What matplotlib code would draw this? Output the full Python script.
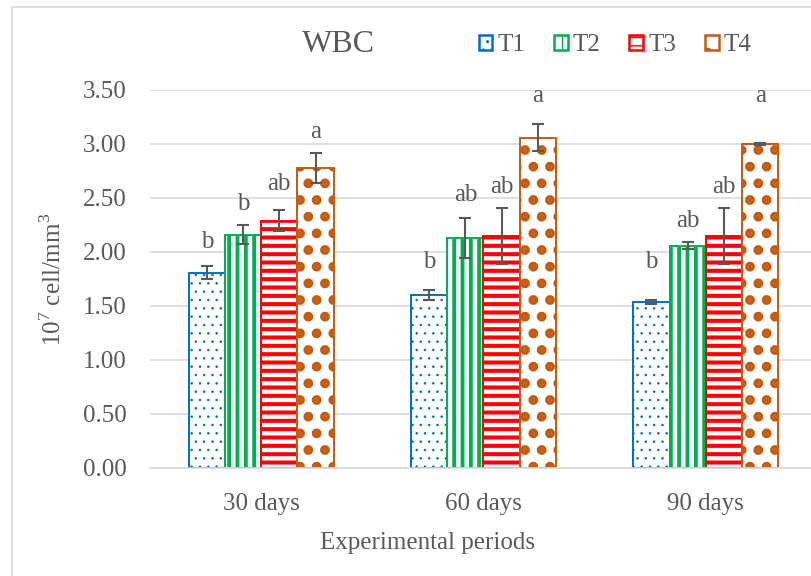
import matplotlib.pyplot as plt
import numpy as np
from matplotlib.patches import Rectangle

periods = ['30 days', '60 days', '90 days']
groups = ['T1', 'T2', 'T3', 'T4']

wbc = {
    'T1': [1.81, 1.60, 1.54],
    'T2': [2.16, 2.13, 2.06],
    'T3': [2.29, 2.15, 2.15],
    'T4': [2.78, 3.06, 3.00],
}
wbc_err = {
    'T1': [0.06, 0.045, 0.02],
    'T2': [0.09, 0.185, 0.035],
    'T3': [0.10, 0.26, 0.26],
    'T4': [0.14, 0.125, 0.01],
}
letters = {
    'T1': ['b', 'b', 'b'],
    'T2': ['b', 'ab', 'ab'],
    'T3': ['ab', 'ab', 'ab'],
    'T4': ['a', 'a', 'a'],
}
# baseline heights of the significance letters (axis units)
letter_y = {
    'T1': [2.04, 1.85, 1.85],
    'T2': [2.39, 2.47, 2.23],
    'T3': [2.57, 2.55, 2.55],
    'T4': [3.06, 3.39, 3.39],
}

colors = {'T1': '#0070C0', 'T2': '#00B050', 'T3': '#FF0000', 'T4': '#C55A11'}
hatches = {'T1': '..', 'T2': '||', 'T3': '--', 'T4': '.'}
hatch_lw = {'T1': 0.6, 'T2': 2.8, 'T3': 2.9, 'T4': 4.6}

txt = '#595959'
plt.rcParams['font.family'] = ['Liberation Serif', 'DejaVu Serif']
plt.rcParams['mathtext.fontset'] = 'custom'
plt.rcParams['mathtext.rm'] = 'Liberation Serif'

fig = plt.figure(figsize=(8.11, 5.76), dpi=100)
ax = fig.add_axes([150 / 811, 1 - 468 / 576, 667 / 811, 378 / 576])

x = np.arange(len(periods))
w = 0.163
for i, g in enumerate(groups):
    with plt.rc_context({'hatch.linewidth': hatch_lw[g]}):
        bars = ax.bar(x + (i - 1.5) * w, wbc[g], w, color='white',
                      edgecolor=colors[g], hatch=hatches[g], linewidth=1.4,
                      zorder=2, label=g)
        for b in bars:
            if hasattr(b, 'set_hatch_linewidth'):
                b.set_hatch_linewidth(hatch_lw[g])
    ax.errorbar(x + (i - 1.5) * w, wbc[g], yerr=wbc_err[g], fmt='none',
                ecolor='#595959', elinewidth=1.5, capsize=4.3, capthick=1.5,
                zorder=3)
    for j in range(len(periods)):
        ax.text(x[j] + (i - 1.5) * w, letter_y[g][j], letters[g][j],
                ha='center', va='baseline', fontsize=18, color=txt)

ax.set_xlim(-0.5, 2.5)
ax.set_ylim(0, 3.5)
ax.set_yticks(np.arange(0, 3.51, 0.5))
ax.set_yticklabels([f'{v:.2f}' for v in np.arange(0, 3.51, 0.5)])
ax.set_xticks(x)
ax.set_xticklabels(periods)
ax.tick_params(length=0, labelsize=18, labelcolor=txt, pad=17)
ax.tick_params(axis='x', pad=18)
ax.grid(axis='y', color='#D9D9D9', linewidth=1.2, zorder=0)
ax.set_axisbelow(True)
for s in ['top', 'right', 'left']:
    ax.spines[s].set_visible(False)
ax.spines['bottom'].set_color('#D9D9D9')
ax.spines['bottom'].set_linewidth(1.2)

ax.set_ylabel(r'10$^{\mathrm{7}}$ cell/mm$^{\mathrm{3}}$', fontsize=18,
              color=txt, labelpad=12)
fig.text(427 / 811, 1 - 543 / 576, 'Experimental periods', ha='center',
         va='center', fontsize=18, color=txt)
fig.text(338 / 811, 1 - 45 / 576, 'WBC', ha='center', va='center',
         fontsize=23, color=txt)

handles = []
for g in groups:
    with plt.rc_context({'hatch.linewidth': hatch_lw[g]}):
        h = Rectangle((0, 0), 1, 1, facecolor='white', edgecolor=colors[g],
                      hatch=hatches[g], linewidth=1.8)
    handles.append(h)
fig.legend(handles, groups, loc='center', bbox_to_anchor=(615 / 811, 1 - 45 / 576),
           ncol=4, frameon=False, fontsize=18, labelcolor=txt,
           handlelength=0.55, handleheight=0.55, handletextpad=0.2,
           columnspacing=1.15, borderpad=0)

# outer chart border
fig.add_artist(Rectangle((12 / 811, -0.1), 1.2, 1 - 6.5 / 576 + 0.1,
                         transform=fig.transFigure, fill=False,
                         edgecolor='#D9D9D9', linewidth=1.2))

fig.savefig('out.png', dpi=100)
